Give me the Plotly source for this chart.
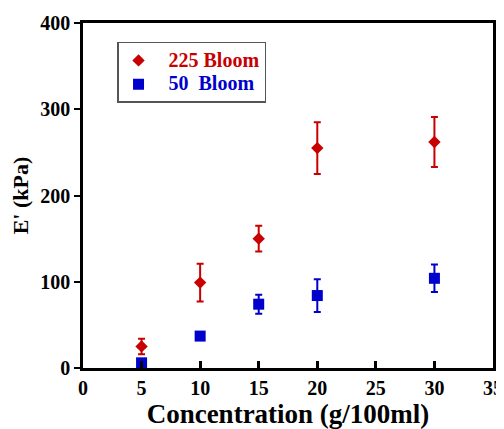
import plotly.graph_objects as go

conc = [5, 10, 15, 20, 30]
bloom225 = [25, 99, 150, 255, 262]
bloom225_err = [9, 22, 15, 30, 29]
bloom50 = [6, 37, 74, 84, 104]
bloom50_err = [0, 0, 11, 19, 16]

x_ticks = [0, 5, 10, 15, 20, 25, 30, 35]
y_ticks = [0, 100, 200, 300, 400]

RED = "#C80000"
BLUE = "#0000CC"
FONT = "Liberation Serif"

fig = go.Figure()
fig.add_trace(go.Scatter(
    x=conc, y=bloom225, mode="markers",
    name=f"<b><span style='color:{RED};font-size:20px'>\u00a0\u00a0225 Bloom</span></b>",
    marker=dict(symbol="diamond", size=9.5, color=RED),
    error_y=dict(type="data", array=bloom225_err, visible=True,
                 color=RED, thickness=2, width=3.5),
))
fig.add_trace(go.Scatter(
    x=conc, y=bloom50, mode="markers",
    name=f"<b><span style='color:{BLUE};font-size:20px'>\u00a0\u00a050\u00a0 Bloom</span></b>",
    marker=dict(symbol="square", size=11, color=BLUE),
    error_y=dict(type="data", array=bloom50_err, visible=True,
                 color=BLUE, thickness=2, width=3.5),
))

# page body has an 8px margin, so the figure is sized 8px smaller
fig.update_layout(
    width=496, height=421,
    margin=dict(l=75, r=11, t=15, b=61),
    paper_bgcolor="white", plot_bgcolor="white",
    font=dict(family=FONT, color="black"),
    legend=dict(
        x=0.083, y=0.945, xanchor="left", yanchor="top",
        bordercolor="#555555", borderwidth=1.5, bgcolor="white",
        font=dict(family=FONT, size=16, color="black"),
        tracegroupgap=0,
    ),
    xaxis=dict(
        range=[0, 35], tickvals=x_ticks, ticktext=[str(v) for v in x_ticks],
        showgrid=False, zeroline=False, automargin=False,
        showline=True, linecolor="black", linewidth=2.5, mirror=True,
        ticks="inside", ticklen=7, tickwidth=2.5, tickcolor="black",
        tickfont=dict(family=FONT, size=20, color="black", weight="bold"),
        title=dict(text="<b>Concentration (g/100ml)</b>",
                   font=dict(family=FONT, size=27, color="black"), standoff=4),
    ),
    yaxis=dict(
        range=[0, 400], tickvals=y_ticks, ticktext=[str(v) for v in y_ticks],
        showgrid=False, zeroline=False, automargin=False,
        showline=True, linecolor="black", linewidth=2.5, mirror=True,
        ticks="outside", ticklen=6, tickwidth=2, tickcolor="black",
        tickfont=dict(family=FONT, size=20, color="black", weight="bold"),
        title=dict(text="<b>E' (kPa)</b>",
                   font=dict(family=FONT, size=22, color="black"), standoff=8),
    ),
)

fig.write_html("out.html")
